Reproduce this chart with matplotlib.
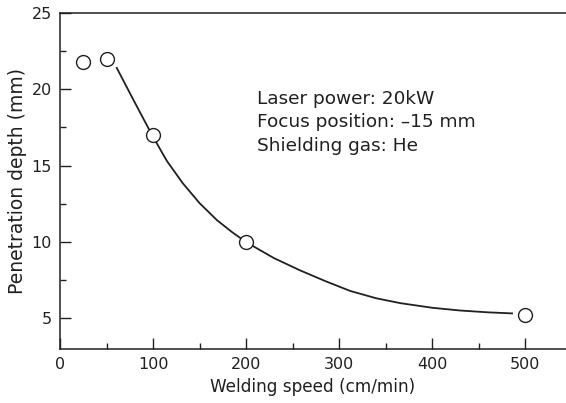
import matplotlib.pyplot as plt
from matplotlib.ticker import MultipleLocator

plt.rcParams['font.family'] = ['DejaVu Sans']

# measured points
speed = [25, 50, 100, 200, 500]
depth = [21.8, 22.0, 17.0, 10.0, 5.25]

# fitted curve
curve_x = [61, 79, 99, 115, 132, 150, 169, 185, 200, 230, 258, 285, 312, 340, 366, 400, 430, 460, 486]
curve_y = [21.4, 19.3, 17.0, 15.3, 13.85, 12.55, 11.42, 10.65, 10.0, 8.95, 8.15, 7.45, 6.8, 6.32, 6.0, 5.7, 5.52, 5.4, 5.33]

note = "Laser power: 20kW\nFocus position: \u201315 mm\nShielding gas: He"

ink = '#231f20'

fig = plt.figure(figsize=(5.66, 4.03), dpi=100)
ax = fig.add_axes([0.106, 0.134, 0.894, 0.834])

ax.plot(curve_x, curve_y, color=ink, lw=1.3, zorder=2)
ax.plot(speed, depth, 'o', ms=10, mfc='white', mec=ink, mew=1.0, zorder=3)

ax.set_xlim(0, 544)
ax.set_ylim(3, 25)
ax.xaxis.set_major_locator(MultipleLocator(100))
ax.xaxis.set_minor_locator(MultipleLocator(50))
ax.yaxis.set_major_locator(MultipleLocator(5))
ax.yaxis.set_minor_locator(MultipleLocator(2.5))
ax.tick_params(which='both', direction='in', colors=ink, width=1.0, labelsize=11.5, pad=6)
ax.tick_params(which='major', length=8)
ax.tick_params(which='minor', length=4)
ax.tick_params(axis='x', which='both', top=False)
ax.tick_params(axis='y', which='both', right=False)

for s in ['left', 'bottom', 'top']:
    ax.spines[s].set_linewidth(1.1)
    ax.spines[s].set_color(ink)
ax.spines['right'].set_visible(False)

ax.set_xlabel("Welding speed (cm/min)", fontsize=12.2, color=ink, labelpad=4)
ax.set_ylabel("Penetration depth (mm)", fontsize=13.5, color=ink, labelpad=3)

ax.text(212, 19.95, note, fontsize=13.3, color=ink, va='top', ha='left', linespacing=1.38)

fig.savefig("out.png", dpi=100)
